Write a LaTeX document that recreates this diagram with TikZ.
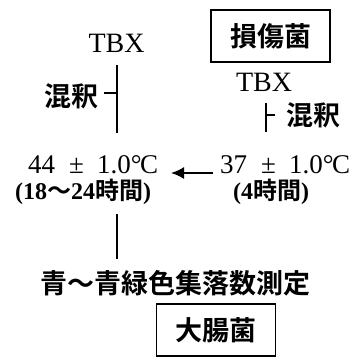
\documentclass[tikz,border=0pt]{standalone}
\usepackage{fontspec}
\setmainfont{Liberation Serif}
\newfontfamily\jp{Noto Sans CJK JP}[BoldFont={* Bold}]
\usetikzlibrary{arrows.meta}
\newcommand{\degC}{{\textdegree\kern-0.05em C}}
\newcommand{\templine}[1]{#1\hspace{14pt}±\hspace{13pt}1.0\degC}
\tikzset{
  jtext/.style={inner sep=0pt, font=\jp\bfseries\fontsize{27}{30}\selectfont},
  ltext/.style={inner sep=0pt, font=\fontsize{28}{30}\selectfont},
  temp/.style={inner sep=0pt, font=\fontsize{27}{30}\selectfont},
  small/.style={inner sep=0pt, font=\bfseries\fontsize{24}{26}\selectfont},
  boxed/.style={draw, line width=1.4pt, minimum width=119pt, minimum height=52pt, inner sep=0pt},
  flow/.style={line width=1.8pt},
}
\begin{document}
\begin{tikzpicture}[x=1pt,y=-1pt]
\useasboundingbox (0,0) rectangle (357,358);
% left column
\node[ltext] (tbx1) at (116.5,43) {TBX};
\coordinate (l1a) at (117,65);
\coordinate (l1b) at (117,133);
\coordinate (t1) at (117,93);
\coordinate (t1e) at (104,93);
\node[jtext] (mix1) at (71,96) {混釈};
\node[temp, anchor=west] (t44) at (28,165) {\templine{44}};
\node[small, anchor=west] (h1) at (15,192) {(18{\jp 〜}24{\jp 時間})};
\coordinate (l3a) at (117,214);
\coordinate (l3b) at (117,259);
\node[jtext, anchor=west] (count) at (40,283) {青〜青緑色集落数測定};
% right column
\node[boxed, jtext] (inj) at (270.5,36) {損傷菌};
\node[ltext] (tbx2) at (264,82) {TBX};
\coordinate (l2a) at (266,103);
\coordinate (l2b) at (266,132);
\coordinate (t2) at (266,115);
\coordinate (t2e) at (275,115);
\node[jtext] (mix2) at (313,115) {混釈};
\node[temp, anchor=west] (t37) at (220,165) {\templine{37}};
\node[small, anchor=west] (h2) at (233,192) {(4{\jp 時間})};
\node[boxed, jtext] (ecoli) at (216,330) {大腸菌};
% connectors
\draw[flow] (l1a) -- (l1b);
\draw[line width=1.2pt] (t1e) -- (t1);
\draw[flow] (l2a) -- (l2b);
\draw[line width=1.2pt] (t2) -- (t2e);
\draw[flow] (l3a) -- (l3b);
\coordinate (ar1) at (213,173);
\coordinate (ar2) at (171,173);
\draw[flow, -{Latex[length=13pt,width=12pt]}] (ar1) -- (ar2);
\end{tikzpicture}
\end{document}
